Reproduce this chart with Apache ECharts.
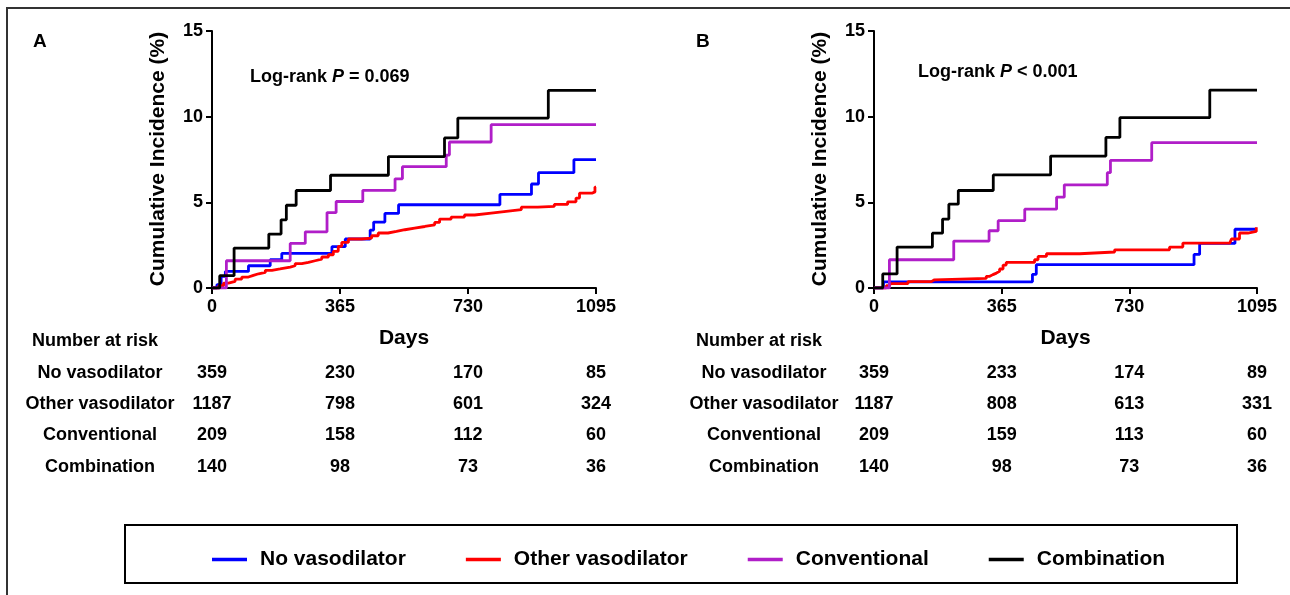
<!DOCTYPE html>
<html>
<head>
<meta charset="utf-8">
<script src="https://cdn.jsdelivr.net/npm/echarts@6/dist/echarts.min.js"></script>
<style>
  html, body { margin: 0; padding: 0; background: #fff; }
  #chart { width: 1290px; height: 595px; }
</style>
</head>
<body>
<div id="chart"></div>
<script>
// groups and colours
const groups = ['No vasodilator', 'Other vasodilator', 'Conventional', 'Combination'];
const colors = ['#0000ff', '#ff0000', '#b01ec8', '#000000'];
const dayTicks = [0, 365, 730, 1095];

// panel A curves: [day, cumulative incidence %]
const aNone = [[0,0],[14,0.19],[26,0.68],[38,0.97],[104,1.30],[166,1.65],[199,2.02],[342,2.41],[380,2.86],[451,3.38],[461,3.85],[493,4.35],[532,4.86],[821,5.46],[911,6.07],[931,6.73],[1032,7.49],[1095,7.49]];
const aOther = [[0,0],[19,0.13],[33,0.29],[47,0.39],[66,0.52],[85,0.64],[104,0.74],[118,0.83],[133,0.91],[152,1.03],[171,1.11],[194,1.22],[223,1.30],[237,1.42],[256,1.49],[275,1.59],[294,1.69],[313,1.81],[332,1.94],[346,2.14],[360,2.43],[370,2.66],[389,2.86],[427,2.91],[455,3.05],[474,3.21],[502,3.30],[526,3.40],[550,3.50],[578,3.59],[607,3.69],[635,3.83],[649,4.02],[682,4.14],[720,4.26],[749,4.37],[796,4.47],[839,4.57],[882,4.72],[929,4.76],[976,4.88],[1014,5.03],[1038,5.25],[1048,5.54],[1085,5.61],[1092,5.89],[1095,5.89]];
const aConv = [[0,0],[41,1.59],[223,2.60],[266,3.28],[328,4.40],[354,5.05],[430,5.70],[522,6.37],[543,7.08],[668,7.76],[677,8.52],[796,9.53],[1095,9.53]];
const aComb = [[0,0],[22,0.72],[63,2.33],[162,3.15],[197,3.98],[212,4.83],[240,5.69],[338,6.58],[503,7.67],[663,8.76],[701,9.92],[959,11.53],[1095,11.53]];

// panel B curves
const bNone = [[0,0],[27,0.36],[453,0.80],[464,1.36],[915,1.96],[931,2.60],[1032,3.43],[1095,3.43]];
const bOther = [[0,0],[35,0.13],[45,0.25],[97,0.37],[164,0.48],[173,0.56],[321,0.68],[331,0.78],[340,0.87],[350,0.97],[359,1.11],[369,1.34],[378,1.49],[459,1.65],[469,1.84],[493,2.00],[588,2.10],[688,2.23],[845,2.39],[883,2.62],[1017,2.72],[1022,2.86],[1045,3.21],[1069,3.30],[1093,3.55],[1095,3.55]];
const bConv = [[0,0],[44,1.65],[228,2.74],[329,3.34],[355,3.93],[431,4.60],[522,5.30],[544,6.02],[667,6.73],[676,7.45],[794,8.48],[1095,8.48]];
const bComb = [[0,0],[25,0.82],[66,2.39],[167,3.20],[196,4.02],[214,4.89],[241,5.69],[341,6.60],[505,7.70],[663,8.79],[703,9.94],[960,11.55],[1095,11.55]];

// number at risk
const riskA = [[359,230,170,85],[1187,798,601,324],[209,158,112,60],[140,98,73,36]];
const riskB = [[359,233,174,89],[1187,808,613,331],[209,159,113,60],[140,98,73,36]];

const FONT = '"Liberation Sans", Arial, sans-serif';
const curves = [[aNone, aOther, aConv, aComb], [bNone, bOther, bConv, bComb]];

let chart = echarts.init(document.getElementById('chart'));

let series = [];
curves.forEach((panel, p) => {
  panel.forEach((data, g) => {
    series.push({
      type: 'line',
      name: groups[g],
      xAxisIndex: p,
      yAxisIndex: p,
      data: data,
      step: 'end',
      showSymbol: false,
      lineStyle: { width: 2.8, color: colors[g] },
      itemStyle: { color: colors[g] },
      z: 2 + g
    });
  });
});

function xAxis(i) {
  return {
    gridIndex: i, type: 'value', min: 0, max: 1095, interval: 365,
    axisLine: { show: true, onZero: false, lineStyle: { color: '#000', width: 2 } },
    axisTick: { show: true, length: 6, lineStyle: { color: '#000', width: 2 } },
    axisLabel: { color: '#000', fontSize: 18, fontWeight: 'bold', fontFamily: FONT, margin: 10,
      formatter: v => String(v) },
    splitLine: { show: false }
  };
}
function yAxis(i) {
  return {
    gridIndex: i, type: 'value', min: 0, max: 15, interval: 5,
    axisLine: { show: true, onZero: false, lineStyle: { color: '#000', width: 2 } },
    axisTick: { show: true, length: 6, lineStyle: { color: '#000', width: 2 } },
    axisLabel: { color: '#000', fontSize: 18, fontWeight: 'bold', fontFamily: FONT, margin: 9 },
    splitLine: { show: false }
  };
}

const rich = {
  n: { fontSize: 18, fontWeight: 'bold', fontFamily: FONT, color: '#000' },
  i: { fontSize: 18, fontWeight: 'bold', fontStyle: 'italic', fontFamily: FONT, color: '#000' }
};

let option = {
  animation: false,
  textStyle: { fontFamily: FONT },
  grid: [
    { left: 212, top: 31, width: 384, height: 257 },
    { left: 874, top: 31, width: 383, height: 257 }
  ],
  xAxis: [xAxis(0), xAxis(1)],
  yAxis: [yAxis(0), yAxis(1)],
  title: [
    { text: 'A', left: 33, top: 32, padding: 0, textStyle: { fontSize: 19, fontWeight: 'bold', fontFamily: FONT, color: '#000' } },
    { text: 'B', left: 696, top: 32, padding: 0, textStyle: { fontSize: 19, fontWeight: 'bold', fontFamily: FONT, color: '#000' } },
    { text: '{n|Log-rank }{i|P}{n| = 0.069}', left: 250, top: 68, padding: 0, textStyle: { rich: rich } },
    { text: '{n|Log-rank }{i|P}{n| < 0.001}', left: 918, top: 63, padding: 0, textStyle: { rich: rich } }
  ],
  legend: {
    data: groups,
    left: 207, top: 544,
    icon: 'rect', itemWidth: 35, itemHeight: 3.5, itemGap: 60,
    textStyle: { fontSize: 21, fontWeight: 'bold', fontFamily: FONT, color: '#000', padding: [0, 0, 0, 8] }
  },
  series: series
};
chart.setOption(option);

// table, axis titles and frame
let graphic = [
  { type: 'polyline', shape: { points: [[7, 595], [7, 8], [1290, 8]] }, style: { stroke: '#333', lineWidth: 2, fill: null } },
  { type: 'rect', shape: { x: 125, y: 525, width: 1112, height: 58 }, style: { fill: 'none', stroke: '#000', lineWidth: 2 } }
];
function txt(text, x, y, size, rot) {
  return {
    type: 'text', x: x, y: y, rotation: rot || 0,
    style: { text: text, x: 0, y: 0, fill: '#000', font: 'bold ' + size + 'px ' + FONT,
      textAlign: 'center', textVerticalAlign: 'middle', align: 'center', verticalAlign: 'middle' }
  };
}
const rowY = [373, 404, 435, 467];
[[riskA, 100, 0, 158], [riskB, 764, 1, 820]].forEach(([risk, labelX, p, titleX]) => {
  graphic.push(txt('Cumulative Incidence (%)', titleX, 159, 21, Math.PI / 2));
  graphic.push(txt('Days', chart.convertToPixel({ xAxisIndex: p }, 547.5), 338, 21));
  graphic.push(txt('Number at risk', labelX - 5, 341, 18));
  risk.forEach((row, r) => {
    graphic.push(txt(groups[r], labelX, rowY[r], 18));
    row.forEach((v, k) => {
      graphic.push(txt(String(v), chart.convertToPixel({ xAxisIndex: p }, dayTicks[k]), rowY[r], 18));
    });
  });
});
chart.setOption({ graphic: graphic });
</script>
</body>
</html>
